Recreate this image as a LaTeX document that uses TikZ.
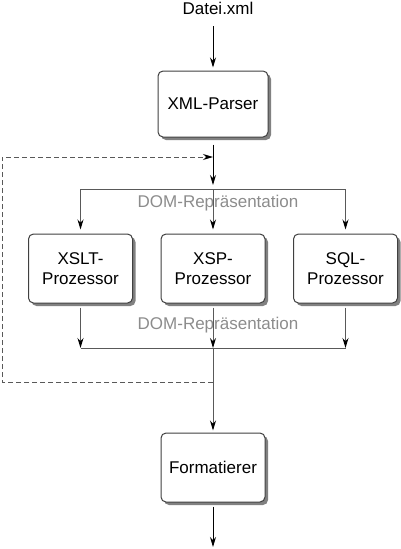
\documentclass[tikz,border=0pt]{standalone}
\usepackage{fontspec}
\setmainfont{Liberation Sans}
\usetikzlibrary{arrows.meta,shadows}

\begin{document}
\begin{tikzpicture}[x=1pt,y=-1pt,line width=1pt,
		every node/.style={font=\fontsize{17}{20}\selectfont},
		box/.style={draw=black!75, rounded corners=5pt, fill=white, minimum width=104pt, minimum height=69pt, align=center, drop shadow={shadow xshift=3pt, shadow yshift=-3pt, fill=black!55, opacity=0.9}},
		pfeil/.style={-{Stealth[length=10pt,width=6pt,black]}},
		grau/.style={draw=black!65},
		dom/.style={text=black!45}]
				\useasboundingbox (0,0) rectangle (400,549);
				\node (datei) at (218,8) {Datei.xml};
				\node[box, minimum width=110pt, minimum height=66pt] (parser) at (213,104) {XML-Parser};
				\node[box] (xslt) at (80.5,268.5) {XSLT-\\Prozessor};
				\node[box] (xsp) at (213,268.5) {XSP-\\Prozessor};
				\node[box] (sql) at (345.5,268.5) {SQL-\\Prozessor};
				\node[box] (format) at (213,467.5) {Formatierer};
				\node[dom] (dom1) at (218,203) {DOM-Repräsentation};
				\node[dom] (dom2) at (218,325) {DOM-Repräsentation};
				\coordinate (verteiler) at (213,189);
				\coordinate (sammler) at (213,348);
				\coordinate (rueck) at (213,382);
				\coordinate (ein) at (213,157);
				\coordinate (ausgang) at (213,547);
				% Eingabe und Parser
				\draw[pfeil, shorten <=8pt, shorten >=3pt] (datei.south -| parser) -- (parser.north);
				\draw[pfeil, shorten <=7pt, shorten >=4pt] (parser.south) -- (verteiler);
				% Verteilung auf die Prozessoren
				\draw[grau] (xslt.north |- verteiler) -- (sql.north |- verteiler);
				\foreach \p in {xslt,xsp,sql}
					\draw[grau, pfeil, shorten >=4pt] (\p.north |- verteiler) -- (\p.north);
				\foreach \p in {xslt,xsp,sql}
					\draw[grau, pfeil, shorten <=4pt] (\p.south) -- (\p.south |- sammler);
				\draw[grau] (xslt.south |- sammler) -- (sql.south |- sammler);
				\draw[grau, pfeil, shorten >=2pt] (sammler) -- (format.north);
				% Rueckkopplung
				\draw[grau, dash pattern=on 5pt off 3pt, pfeil] (rueck) -- ++(-211,0) |- (ein);
				\draw[pfeil, shorten <=4pt] (format.south) -- (ausgang);
			\end{tikzpicture}
\end{document}
